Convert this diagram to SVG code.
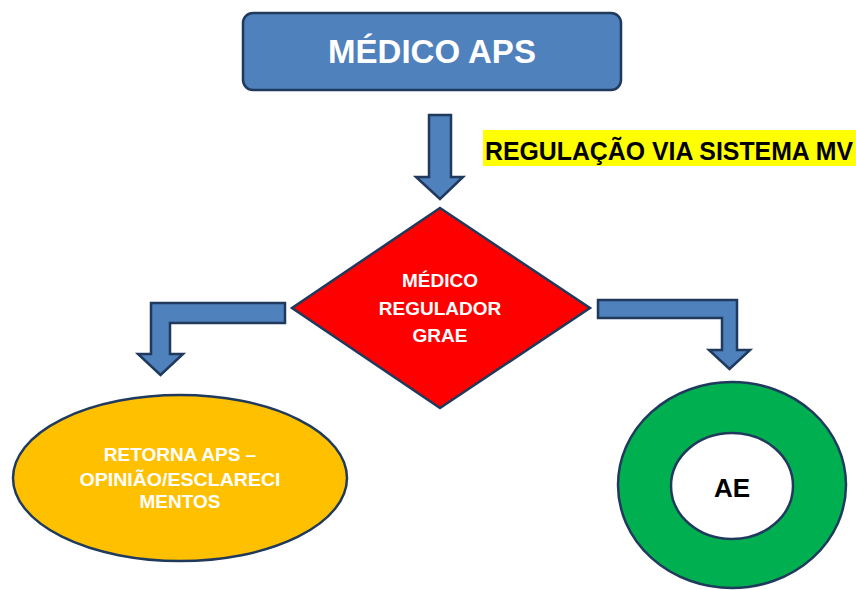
<svg xmlns="http://www.w3.org/2000/svg" width="856" height="590" viewBox="0 0 856 590">
<style>
.ln{stroke:#1F3A5C;stroke-width:2.5;stroke-linejoin:miter}
.arr{fill:#4F81BD;stroke:#1F3A5C;stroke-width:2.5}
.w{fill:#FFFFFF;font-family:"Liberation Sans",Arial,sans-serif;font-weight:bold;text-anchor:middle}
.k{fill:#000000;font-family:"Liberation Sans",Arial,sans-serif;font-weight:bold}
</style>
<rect width="856" height="590" fill="#FFFFFF"/>
<g id="connectors">
<path class="arr" d="M429,115 L451,115 L451,177 L463,177 L440,199 L416,177 L429,177 Z"/>
<path class="arr" d="M285,303 L151,303 L151,354 L138,354 L160.5,375 L183,354 L170,354 L170,323 L285,323 Z"/>
<path class="arr" d="M598,300 L737,300 L737,350 L750,350 L729.5,369 L709,350 L722,350 L722,318 L598,318 Z"/>
</g>
<g id="medico-aps">
<rect class="ln" x="243" y="13" width="378" height="77" rx="10" fill="#4F81BD"/>
<text class="w" x="432" y="63" font-size="33">MÉDICO APS</text>
</g>
<g id="regulacao-label">
<rect x="483" y="130" width="373" height="36" fill="#FFFF00"/>
<text class="k" x="485" y="160" font-size="25" textLength="368" lengthAdjust="spacingAndGlyphs">REGULAÇÃO VIA SISTEMA MV</text>
</g>
<g id="regulador">
<polygon class="ln" points="440,208 590,308 440,408 292,308" fill="#FF0000"/>
<text class="w" x="440" y="287" font-size="19">MÉDICO</text>
<text class="w" x="440" y="315" font-size="19">REGULADOR</text>
<text class="w" x="440" y="342" font-size="19">GRAE</text>
</g>
<g id="retorna-aps">
<ellipse class="ln" cx="180" cy="478" rx="167" ry="83" fill="#FFC000"/>
<text class="w" x="180" y="461" font-size="19">RETORNA APS –</text>
<text class="w" x="180" y="486" font-size="19" textLength="201" lengthAdjust="spacingAndGlyphs">OPINIÃO/ESCLARECI</text>
<text class="w" x="180" y="508" font-size="19">MENTOS</text>
</g>
<g id="ae">
<ellipse class="ln" cx="732" cy="485" rx="114" ry="103" fill="#00B050"/>
<ellipse class="ln" cx="732" cy="486" rx="61" ry="53" fill="#FFFFFF"/>
<text class="k" x="732" y="497" font-size="26" text-anchor="middle">AE</text>
</g>
</svg>
